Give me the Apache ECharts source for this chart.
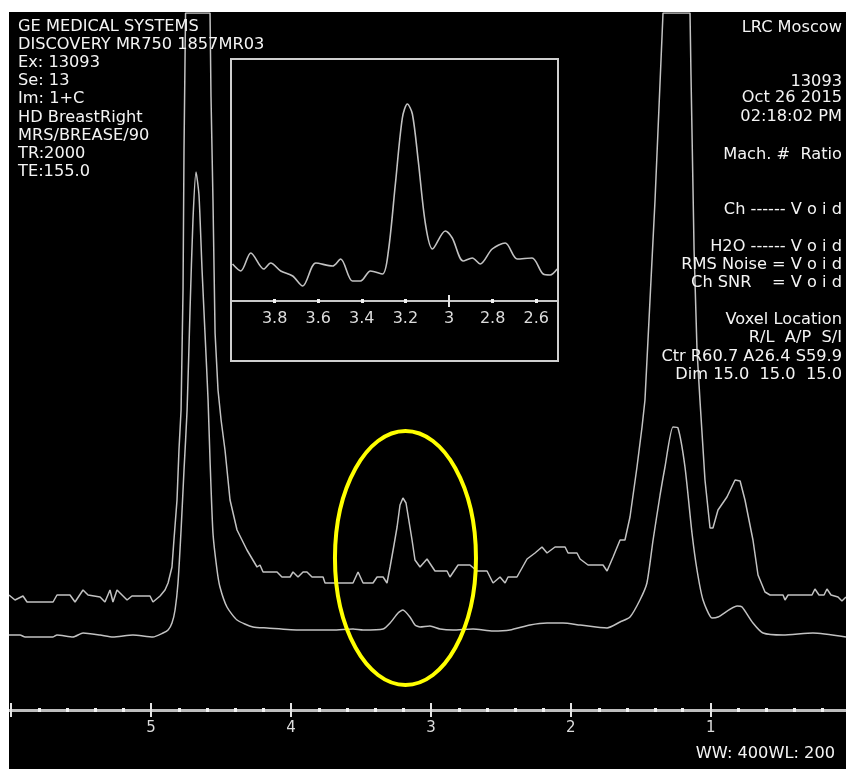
<!DOCTYPE html>
<html>
<head>
<meta charset="utf-8">
<script src="https://cdn.jsdelivr.net/npm/echarts@6/dist/echarts.min.js"></script>
<style>
  html, body { margin: 0; padding: 0; background: #ffffff; width: 846px; height: 769px; overflow: hidden; }
  #chart { position: absolute; left: 9px; top: 12px; width: 837px; height: 757px; }
</style>
</head>
<body>
<div id="chart"></div>
<script>
// MR spectrum, chemical shift in ppm (axis runs right to left)
// Upper trace (higher display gain, saturated at water and lipid peaks)
const upperPpm = [6.016,5.973,5.916,5.887,5.701,5.673,5.580,5.544,5.487,5.451,5.365,5.330,5.294,5.273,5.244,5.172,5.137,5.008,4.987,4.936,4.901,4.879,4.851,4.837,4.815,4.801,4.786,4.772,4.765,4.754,4.579,4.572,4.558,4.543,4.522,4.500,4.472,4.436,4.386,4.315,4.243,4.222,4.200,4.100,4.065,4.007,3.986,3.950,3.914,3.886,3.850,3.771,3.757,3.557,3.521,3.485,3.414,3.385,3.342,3.314,3.292,3.264,3.242,3.221,3.200,3.178,3.150,3.135,3.114,3.078,3.028,2.971,2.885,2.864,2.806,2.721,2.671,2.599,2.556,2.506,2.470,2.449,2.385,2.313,2.256,2.206,2.170,2.113,2.041,2.020,1.956,1.934,1.877,1.770,1.741,1.698,1.648,1.613,1.577,1.527,1.491,1.470,1.434,1.398,1.341,1.148,1.141,1.119,1.098,1.077,1.041,1.005,0.984,0.948,0.884,0.826,0.790,0.755,0.698,0.662,0.612,0.576,0.483,0.469,0.447,0.276,0.255,0.226,0.190,0.169,0.140,0.090,0.062,0.033];
const upperVal = [115,110,114,108,108,115,115,108,120,115,113,108,120,108,120,110,114,114,108,114,120,127,143,170,210,260,300,420,560,697,697,613,510,377,320,290,260,210,180,160,143,145,138,138,133,133,138,133,138,138,133,133,127,127,138,127,127,133,133,127,143,165,183,205,212,207,183,170,150,143,151,139,139,133,145,145,139,139,127,133,127,133,133,151,157,163,157,163,163,157,157,151,145,145,139,153,170,170,193,243,283,310,410,510,697,697,635,460,360,310,230,182,182,200,213,230,229,210,170,135,118,115,115,110,115,115,121,115,115,121,115,113,109,113];

// Lower trace (lower display gain)
const lowerPpm = [6.016,5.937,5.901,5.701,5.673,5.558,5.487,5.365,5.273,5.130,4.987,4.915,4.879,4.851,4.829,4.808,4.786,4.765,4.743,4.722,4.701,4.679,4.658,4.636,4.615,4.593,4.579,4.558,4.529,4.508,4.458,4.386,4.272,4.172,3.936,3.700,3.557,3.485,3.342,3.292,3.235,3.200,3.150,3.114,3.078,3.007,2.935,2.842,2.699,2.556,2.435,2.292,2.170,2.056,1.934,1.741,1.648,1.577,1.506,1.456,1.412,1.362,1.327,1.270,1.234,1.184,1.134,1.098,1.055,0.991,0.948,0.812,0.776,0.698,0.626,0.483,0.269,0.033];
const lowerVal = [75,75,73,73,75,73,77,75,73,75,73,77,80,87,100,127,180,240,300,400,490,538,515,440,377,310,250,177,140,123,103,90,83,82,80,80,81,80,81,87,97,100,93,85,83,84,81,80,81,79,80,85,87,87,85,82,88,93,110,127,170,215,243,283,282,243,177,140,110,92,93,104,103,87,77,75,77,73];

// Zoomed view of the choline region
const insetPpm = [3.993,3.955,3.909,3.850,3.818,3.772,3.717,3.671,3.611,3.534,3.497,3.443,3.406,3.360,3.305,3.278,3.246,3.214,3.191,3.168,3.141,3.108,3.076,3.017,2.985,2.935,2.893,2.857,2.802,2.742,2.687,2.619,2.568,2.536,2.504];
const insetVal = [37,30,48,32,38,30,25,15,38,35,42,20,20,30,27,50,117,183,197,187,140,77,52,70,63,40,43,37,52,58,42,43,27,26,32];

// Axis ticks and labels
const mainLabels = [1, 2, 3, 4, 5];
const mainMajorTicks = [1, 2, 3, 4, 5, 6];
const mainMinorTicks = [0.2,0.4,0.6,0.8,1.2,1.4,1.6,1.8,2.2,2.4,2.6,2.8,3.2,3.4,3.6,3.8,4.2,4.4,4.6,4.8,5.2,5.4,5.6,5.8];
const insetLabels = [2.6, 2.8, 3, 3.2, 3.4, 3.6, 3.8];
const insetMajorTicks = [3];
const insetMinorTicks = [2.6, 2.8, 3.2, 3.4, 3.6, 3.8];

// Header text
const headerLeft = ['GE MEDICAL SYSTEMS', 'DISCOVERY MR750 1857MR03', 'Ex: 13093', 'Se: 13', 'Im: 1+C', 'HD BreastRight', 'MRS/BREASE/90', 'TR:2000', 'TE:155.0'];
const headerRight = ['LRC Moscow', '13093', 'Oct 26 2015', '02:18:02 PM', 'Mach. #  Ratio', 'Ch ------ V o i d', 'H2O ------ V o i d', 'RMS Noise = V o i d', 'Ch SNR    = V o i d', 'Voxel Location', 'R/L  A/P  S/I', 'Ctr R60.7 A26.4 S59.9', 'Dim 15.0  15.0  15.0'];
const headerRightY = [16, 70, 86.5, 104.7, 143, 198, 234.7, 253, 271.3, 308, 326.3, 344.7, 363];
const footerText = 'WW: 400WL: 200';

// Highlighted region (choline peak)
const highlightPpm = 3.182, highlightVal = 152, highlightHalfWidthPpm = 0.504, highlightHalfHeight = 127;

const zip = (a, b) => a.map((v, i) => [v, b[i]]);

const FONT = 'DejaVu Sans';
const textColor = '#f4f4f4';
const traceColor = '#c2c2c2';

function textEl(str, x, y, align) {
  return {
    type: 'text', x: x, y: y, scaleX: 1.08, z: 20,
    style: {
      text: str, fill: textColor, font: '15px "' + FONT + '"',
      align: align, verticalAlign: 'middle',
      textAlign: align, textVerticalAlign: 'middle'
    }
  };
}

function tickAxis(gridIndex, min, max, offset, values, len, width, color) {
  return {
    type: 'value', gridIndex: gridIndex, min: min, max: max, inverse: true,
    position: 'bottom', offset: offset,
    axisLine: { show: false, onZero: false },
    axisTick: { show: true, customValues: values, length: len, lineStyle: { color: color, width: width } },
    axisLabel: { show: false }, splitLine: { show: false }
  };
}

const graphics = [];
headerLeft.forEach((s, i) => graphics.push(textEl(s, 9, 14.7 + 18.2 * i, 'left')));
headerRight.forEach((s, i) => graphics.push(textEl(s, 833, headerRightY[i], 'right')));
graphics.push(textEl(footerText, 826, 742, 'right'));
graphics.push({
  type: 'rect', z: 5,
  shape: { x: 222, y: 47, width: 327, height: 302 },
  style: { fill: 'none', stroke: '#cfcfcf', lineWidth: 2 }
});

const chart = echarts.init(document.getElementById('chart'), null, { renderer: 'canvas' });

const option = {
  backgroundColor: '#000000',
  animation: false,
  grid: [
    { left: 0, right: 0, top: 1, bottom: 59 },
    { left: 222, width: 327, top: 47, height: 242 }
  ],
  xAxis: [
    {
      type: 'value', gridIndex: 0, min: 0.033, max: 6.016, inverse: true, position: 'bottom',
      axisLine: { show: true, onZero: false, lineStyle: { color: '#bdbdbd', width: 3 } },
      axisTick: { show: false },
      axisLabel: { customValues: mainLabels, margin: 11, color: '#dcdcdc', fontFamily: FONT, fontSize: 15 },
      splitLine: { show: false }
    },
    tickAxis(0, 0.033, 6.016, -7, mainMajorTicks, 14, 2, '#e4e4e4'),
    tickAxis(0, 0.033, 6.016, -2, mainMinorTicks, 4, 3, '#f2f2f2'),
    {
      type: 'value', gridIndex: 1, min: 2.5, max: 4.0, inverse: true, position: 'bottom',
      axisLine: { show: true, onZero: false, lineStyle: { color: '#c8c8c8', width: 2 } },
      axisTick: { show: false },
      axisLabel: {
        customValues: insetLabels, margin: 10, color: '#dcdcdc', fontFamily: FONT, fontSize: 16,
        formatter: v => String(+(+v).toFixed(1))
      },
      splitLine: { show: false }
    },
    tickAxis(1, 2.5, 4.0, -6, insetMajorTicks, 12, 2, '#e4e4e4'),
    tickAxis(1, 2.5, 4.0, -2, insetMinorTicks, 4, 3, '#f2f2f2')
  ],
  yAxis: [
    { type: 'value', gridIndex: 0, min: 0, max: 697, show: false },
    { type: 'value', gridIndex: 1, min: 0, max: 242, show: false }
  ],
  series: [
    {
      name: 'upper', type: 'line', xAxisIndex: 0, yAxisIndex: 0, data: zip(upperPpm, upperVal),
      showSymbol: false, symbol: 'none', clip: true,
      lineStyle: { color: traceColor, width: 1.5 }
    },
    {
      name: 'lower', type: 'line', xAxisIndex: 0, yAxisIndex: 0, data: zip(lowerPpm, lowerVal),
      showSymbol: false, symbol: 'none', clip: true, smooth: 0.2,
      lineStyle: { color: traceColor, width: 1.5 }
    },
    {
      name: 'inset', type: 'line', xAxisIndex: 3, yAxisIndex: 1, data: zip(insetPpm, insetVal),
      showSymbol: false, symbol: 'none', clip: true, smooth: 0.3,
      lineStyle: { color: traceColor, width: 1.6 }
    }
  ],
  graphic: { elements: graphics }
};

chart.setOption(option);

// Yellow ellipse around the choline peak, placed from data coordinates
const c = chart.convertToPixel({ xAxisIndex: 0, yAxisIndex: 0 }, [highlightPpm, highlightVal]);
const e = chart.convertToPixel({ xAxisIndex: 0, yAxisIndex: 0 }, [highlightPpm - highlightHalfWidthPpm, highlightVal + highlightHalfHeight]);
graphics.push({
  type: 'ellipse', z: 30,
  shape: { cx: c[0], cy: c[1], rx: Math.abs(e[0] - c[0]), ry: Math.abs(c[1] - e[1]) },
  style: { fill: 'none', stroke: '#ffff00', lineWidth: 4 }
});
chart.setOption({ graphic: { elements: graphics } }, { replaceMerge: ['graphic'] });
</script>
</body>
</html>
